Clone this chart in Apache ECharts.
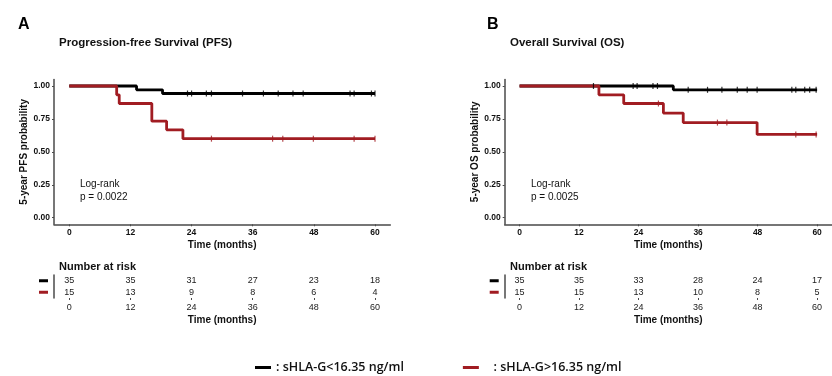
<!DOCTYPE html>
<html>
<head>
<meta charset="utf-8">
<script src="https://cdn.jsdelivr.net/npm/echarts@6/dist/echarts.min.js"></script>
<style>
  html, body { margin: 0; padding: 0; background: #fff; }
  #chart { width: 832px; height: 376px; }
</style>
</head>
<body>
<div id="chart"></div>
<script>
// 两组: 低表达 / 高表达
const groupLow = 'sHLA-G<16.35 ng/ml'
const groupHigh = 'sHLA-G>16.35 ng/ml'
const riskTimes = [0, 12, 24, 36, 48, 60]
const probTicks = [0, 0.25, 0.5, 0.75, 1]

// PFS 阶梯曲线 [月, 生存率]
const pfsLowSteps = [[0, 1], [13.2, 0.971], [18.3, 0.943], [60, 0.943]]
const pfsHighSteps = [[0, 1], [9.3, 0.933], [9.8, 0.867], [16.2, 0.733], [19.1, 0.667], [22.3, 0.6], [60, 0.6]]
const pfsLowCensor = [23.2, 24.0, 26.9, 27.9, 34.0, 38.1, 41.0, 43.9, 45.9, 55.1, 55.9, 59.3, 60]
const pfsHighCensor = [27.9, 39.9, 41.9, 47.9, 55.9, 60]
const pfsLowRisk = [35, 35, 31, 27, 23, 18]
const pfsHighRisk = [15, 13, 9, 8, 6, 4]

// OS 阶梯曲线
const osLowSteps = [[0, 1], [31.0, 0.971], [60, 0.971]]
const osHighSteps = [[0, 1], [16.0, 0.933], [21.0, 0.867], [29.0, 0.794], [33.0, 0.722], [47.9, 0.632], [60, 0.632]]
const osLowCensor = [14.9, 22.9, 23.7, 26.9, 27.8, 34.0, 37.9, 40.8, 43.9, 45.9, 47.9, 54.9, 55.7, 57.5, 58.5, 59.8]
const osHighCensor = [28.0, 39.9, 41.8, 55.7, 59.8]
const osLowRisk = [35, 35, 33, 28, 24, 17]
const osHighRisk = [15, 15, 13, 10, 8, 5]

const black = '#000000'
const red = '#a11c22'
const axisGray = '#4a4a4a'
const font = 'Arial, "Liberation Sans", sans-serif'

// 删失点的纵坐标取自对应阶梯曲线
function survivalAt(steps, t) {
  let s = steps[0][1]
  for (const [time, value] of steps) {
    if (time <= t) s = value
  }
  return s
}

function censorPoints(steps, times) {
  return times.map((t) => [t, survivalAt(steps, t)])
}

function plotAxes(gridIndex, yName, yGap) {
  return {
    x: {
      type: 'value', gridIndex, min: -3, max: 63,
      name: 'Time (months)', nameLocation: 'middle', nameGap: 16,
      nameTextStyle: { fontFamily: font, fontWeight: 'bold', fontSize: 10, color: '#111' },
      axisLine: { onZero: false, lineStyle: { color: axisGray, width: 1.5 } },
      axisTick: { show: true, length: 2, customValues: riskTimes, lineStyle: { color: axisGray } },
      axisLabel: { customValues: riskTimes, margin: 4, fontFamily: font, fontWeight: 'bold', fontSize: 8.5, color: '#111' },
      splitLine: { show: false }
    },
    y: {
      type: 'value', gridIndex, min: -0.05, max: 1.05,
      name: yName, nameLocation: 'middle', nameGap: yGap,
      nameTextStyle: { fontFamily: font, fontWeight: 'bold', fontSize: 10, color: '#111' },
      axisLine: { show: true, onZero: false, lineStyle: { color: axisGray, width: 1.5 } },
      axisTick: { show: true, length: 2, customValues: probTicks, lineStyle: { color: axisGray } },
      axisLabel: { customValues: probTicks, margin: 4, fontFamily: font, fontWeight: 'bold', fontSize: 8.5, color: '#111', formatter: (v) => v.toFixed(2) },
      splitLine: { show: false }
    }
  }
}

function riskAxes(gridIndex) {
  return {
    x: {
      type: 'value', gridIndex, min: -3, max: 63,
      name: 'Time (months)', nameLocation: 'middle', nameGap: 17,
      nameTextStyle: { fontFamily: font, fontWeight: 'bold', fontSize: 10, color: '#111' },
      axisLine: { onZero: false, lineStyle: { color: axisGray, width: 1.5 } },
      axisTick: { show: true, length: 2, customValues: riskTimes, lineStyle: { color: axisGray } },
      axisLabel: { customValues: riskTimes, margin: 5, fontFamily: font, fontSize: 9, color: '#222' },
      splitLine: { show: false }
    },
    y: {
      type: 'category', gridIndex, data: [groupHigh, groupLow],
      axisLine: { show: true, onZero: false, lineStyle: { color: axisGray, width: 1.5 } },
      axisTick: { show: false },
      axisLabel: {
        interval: 0,
        margin: 6,
        formatter: (v) => (v === groupLow ? '{k|}' : '{r|}'),
        rich: {
          k: { width: 9, height: 3, backgroundColor: black },
          r: { width: 9, height: 3, backgroundColor: red }
        }
      },
      splitLine: { show: false }
    }
  }
}

function kmSeries(name, color, steps, censor, xi) {
  return [
    {
      name, type: 'line', step: 'end', xAxisIndex: xi, yAxisIndex: xi,
      data: steps, symbol: 'none', lineStyle: { color, width: 2.8 }, itemStyle: { color },
      z: 3
    },
    {
      name, type: 'scatter', xAxisIndex: xi, yAxisIndex: xi,
      data: censorPoints(steps, censor), symbol: 'rect', symbolSize: [1.2, 6],
      itemStyle: { color }, z: 4
    }
  ]
}

function riskSeries(name, counts, xi) {
  return {
    name, type: 'scatter', xAxisIndex: xi, yAxisIndex: xi,
    data: riskTimes.map((t, i) => ({ value: [t, name], count: counts[i] })),
    symbolSize: 2, itemStyle: { color: 'rgba(0,0,0,0)' },
    label: {
      show: true, position: 'inside', opacity: 1,
      formatter: (p) => String(p.data.count),
      fontFamily: font, fontSize: 9, color: '#1a1a1a'
    },
    emphasis: { disabled: true }
  }
}

const pfsPlot = plotAxes(0, '5-year PFS probability', 22)
const pfsRisk = riskAxes(1)
const osPlot = plotAxes(2, '5-year OS probability', 20)
const osRisk = riskAxes(3)

const chart = echarts.init(document.getElementById('chart'))
chart.setOption({
  backgroundColor: '#fff',
  animation: false,
  title: [
    { text: 'A', left: 13, top: 12, textStyle: { fontFamily: font, fontWeight: 'bold', fontSize: 16, color: '#000' } },
    { text: 'Progression-free Survival (PFS)', left: 54, top: 32, textStyle: { fontFamily: font, fontWeight: 'bold', fontSize: 11.5, color: '#111' } },
    { text: 'Log-rank\np = 0.0022', left: 75, top: 173, textStyle: { fontFamily: font, fontWeight: 'normal', fontSize: 10, lineHeight: 13, color: '#111' } },
    { text: 'Number at risk', left: 54, top: 256, textStyle: { fontFamily: font, fontWeight: 'bold', fontSize: 11, color: '#111' } },
    { text: 'B', left: 482, top: 12, textStyle: { fontFamily: font, fontWeight: 'bold', fontSize: 16, color: '#000' } },
    { text: 'Overall Survival (OS)', left: 505, top: 32, textStyle: { fontFamily: font, fontWeight: 'bold', fontSize: 11.5, color: '#111' } },
    { text: 'Log-rank\np = 0.0025', left: 526, top: 173, textStyle: { fontFamily: font, fontWeight: 'normal', fontSize: 10, lineHeight: 13, color: '#111' } },
    { text: 'Number at risk', left: 505, top: 256, textStyle: { fontFamily: font, fontWeight: 'bold', fontSize: 11, color: '#111' } }
  ],
  legend: {
    data: [groupLow, groupHigh],
    left: 255, top: 361, padding: 0,
    icon: 'rect', itemWidth: 16, itemHeight: 3, itemGap: 59,
    formatter: (name) => (name === groupLow ? ': ' + name : '   : ' + name),
    textStyle: { fontFamily: '"Open Sans", sans-serif', fontWeight: 600, fontSize: 12.5, color: '#111' }
  },
  grid: [
    { left: 54, top: 79.4, width: 336.3, height: 144.9 },
    { left: 54, top: 275, width: 336.3, height: 23 },
    { left: 504.7, top: 79.4, width: 336.6, height: 144.9 },
    { left: 504.7, top: 275, width: 336.6, height: 23 }
  ],
  xAxis: [pfsPlot.x, pfsRisk.x, osPlot.x, osRisk.x],
  yAxis: [pfsPlot.y, pfsRisk.y, osPlot.y, osRisk.y],
  series: [
    ...kmSeries(groupLow, black, pfsLowSteps, pfsLowCensor, 0),
    ...kmSeries(groupHigh, red, pfsHighSteps, pfsHighCensor, 0),
    riskSeries(groupLow, pfsLowRisk, 1),
    riskSeries(groupHigh, pfsHighRisk, 1),
    ...kmSeries(groupLow, black, osLowSteps, osLowCensor, 2),
    ...kmSeries(groupHigh, red, osHighSteps, osHighCensor, 2),
    riskSeries(groupLow, osLowRisk, 3),
    riskSeries(groupHigh, osHighRisk, 3)
  ]
})
</script>
</body>
</html>
